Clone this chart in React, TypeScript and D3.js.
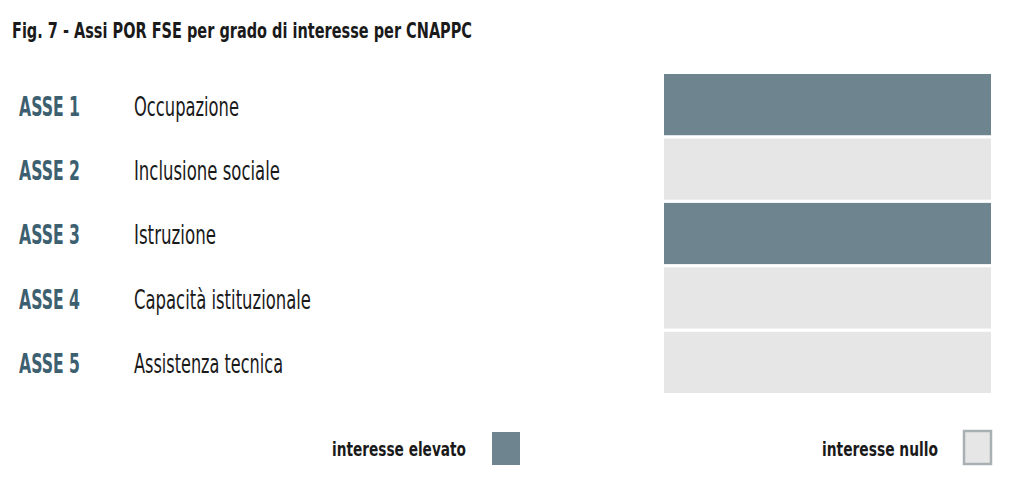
import { useEffect, useRef } from "react";
import * as d3 from "d3";

const assi = ["ASSE 1", "ASSE 2", "ASSE 3", "ASSE 4", "ASSE 5"];
const descrizioni = [
  "Occupazione",
  "Inclusione sociale",
  "Istruzione",
  "Capacità istituzionale",
  "Assistenza tecnica",
];
const interesse = ["elevato", "nullo", "elevato", "nullo", "nullo"];
const livelli = ["elevato", "nullo"];
const legendLabels = ["interesse elevato", "interesse nullo"];

// larghezze misurate sul riferimento (font condensato)
const descWidths = [105, 146, 82, 177, 149];
const legendWidths = [134, 116];

const FONT = "'DejaVu Sans Condensed', 'DejaVu Sans', sans-serif";

const App = () => {
  const ref = useRef<SVGSVGElement>(null);

  useEffect(() => {
    const width = 1024;
    const height = 494;
    const svg = d3.select(ref.current);
    svg.selectAll("*").remove();
    svg.attr("width", width).attr("height", height);

    const data = assi.map((a, i) => ({ asse: a, desc: descrizioni[i], livello: interesse[i], w: descWidths[i] }));

    const y = d3.scaleBand<string>()
      .domain(assi)
      .range([74, 393])
      .paddingInner(0.05)
      .paddingOuter(0);

    const color = d3.scaleOrdinal<string, string>()
      .domain(livelli)
      .range(["#6e848e", "#e6e6e6"]);

    svg.append("text")
      .attr("x", 12)
      .attr("y", 38)
      .attr("font-family", FONT)
      .attr("font-stretch", "condensed")
      .attr("font-weight", "bold")
      .attr("font-size", 22)
      .attr("fill", "#1a1a1a")
      .attr("textLength", 460)
      .attr("lengthAdjust", "spacingAndGlyphs")
      .text("Fig. 7 - Assi POR FSE per grado di interesse per CNAPPC");

    const rows = svg.append("g");

    rows.selectAll("rect")
      .data(data)
      .join("rect")
      .attr("x", 664)
      .attr("y", d => y(d.asse)!)
      .attr("width", 327)
      .attr("height", y.bandwidth())
      .attr("fill", d => color(d.livello));

    rows.selectAll("text.asse")
      .data(data)
      .join("text")
      .attr("class", "asse")
      .attr("x", 19)
      .attr("y", d => y(d.asse)! + y.bandwidth() / 2)
      .attr("dy", "0.42em")
      .attr("font-family", FONT)
      .attr("font-stretch", "condensed")
      .attr("font-weight", "bold")
      .attr("font-size", 26)
      .attr("fill", "#3d6070")
      .attr("textLength", 61)
      .attr("lengthAdjust", "spacingAndGlyphs")
      .text(d => d.asse);

    rows.selectAll("text.desc")
      .data(data)
      .join("text")
      .attr("class", "desc")
      .attr("x", 134)
      .attr("y", d => y(d.asse)! + y.bandwidth() / 2)
      .attr("dy", "0.42em")
      .attr("font-family", FONT)
      .attr("font-stretch", "condensed")
      .attr("font-size", 26)
      .attr("fill", "#1a1a1a")
      .attr("textLength", d => d.w)
      .attr("lengthAdjust", "spacingAndGlyphs")
      .text(d => d.desc);

    // legenda
    const legendX = [[332, 492], [822, 964]];
    const legend = svg.append("g");
    livelli.forEach((l, i) => {
      legend.append("text")
        .attr("x", legendX[i][0])
        .attr("y", 449)
        .attr("dy", "0.36em")
        .attr("font-family", FONT)
        .attr("font-stretch", "condensed")
        .attr("font-weight", "bold")
        .attr("font-size", 20)
        .attr("fill", "#1a1a1a")
        .attr("textLength", legendWidths[i])
        .attr("lengthAdjust", "spacingAndGlyphs")
        .text(legendLabels[i]);
      legend.append("rect")
        .attr("x", legendX[i][1])
        .attr("y", i === 0 ? 432 : 431)
        .attr("width", i === 0 ? 28 : 27)
        .attr("height", 33)
        .attr("fill", color(l))
        .attr("stroke", i === 0 ? "none" : "#a9b0b3")
        .attr("stroke-width", 2.5);
    });
  }, []);

  return <svg ref={ref} style={{ display: "block", position: "absolute", left: 0, top: 0 }} />;
};

export default App;
